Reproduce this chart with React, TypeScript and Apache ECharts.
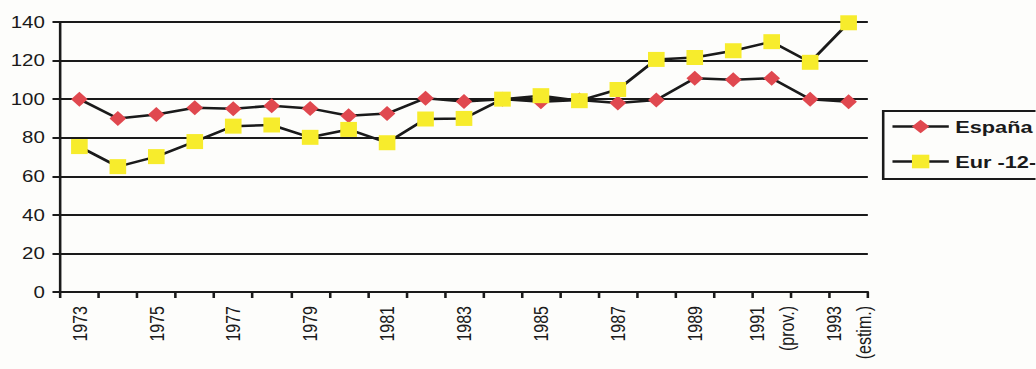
import React, { useEffect, useRef } from "react";
import * as echarts from "echarts";

// Years on the horizontal axis and the notes printed under a few of them
const years: string[] = [
  "1973", "1974", "1975", "1976", "1977", "1978", "1979", "1980", "1981", "1982",
  "1983", "1984", "1985", "1986", "1987", "1988", "1989", "1990", "1991", "1992", "1993",
];
const yearNotes: Record<string, string> = { "1991": "(prov.)", "1993": "(estim.)" };

// Index values (1985 ≈ 100)
const espana: number[] = [
  100, 90, 92, 95.5, 95, 96.6, 95.2, 91.4, 92.5, 100.5,
  98.8, 100, 98.7, 99.5, 98, 99.5, 110.8, 110, 110.8, 99.9, 98.7,
];
const eur12: number[] = [
  75.4, 65, 70.2, 78, 86, 86.6, 80.2, 84.3, 77.4, 89.7,
  90, 100, 101.8, 99.2, 105, 120.6, 121.6, 125.1, 129.8, 119.1, 139.6,
];

const yTicks = { min: 0, max: 140, interval: 20 };

// The drawing is laid out in a narrower box and stretched horizontally
const STRETCH = 1.28;
const OUT_W = 1036;
const OUT_H = 369;
const IN_W = Math.round(OUT_W / STRETCH);

const INK = "#1a1a1a";
const FONT = "'Liberation Sans', Arial, Helvetica, sans-serif";

export default function App() {
  const ref = useRef<HTMLDivElement>(null);

  useEffect(() => {
    if (!ref.current) return;
    const chart = echarts.init(ref.current, undefined, { renderer: "svg" });
    chart.setOption({
      animation: false,
      backgroundColor: "#fdfdfb",
      textStyle: { fontFamily: FONT, color: INK },
      grid: { left: 47, right: IN_W - 678, top: 22, bottom: 77, containLabel: false },
      legend: {
        orient: "vertical",
        left: 690,
        top: 111,
        padding: [7, 40, 9, 6],
        itemGap: 18,
        itemWidth: 44,
        itemHeight: 17,
        borderColor: INK,
        borderWidth: 2,
        borderRadius: 0,
        lineStyle: { width: 2.5, color: INK },
        textStyle: { fontFamily: FONT, fontSize: 17, fontWeight: "bold", color: INK, lineHeight: 17 },
        data: ["España", "Eur -12-"],
      },
      xAxis: {
        type: "category",
        data: years,
        boundaryGap: true,
        axisLine: { show: true, lineStyle: { color: INK, width: 2 } },
        axisTick: { show: true, interval: 0, length: 6, lineStyle: { color: INK, width: 2 } },
        axisLabel: {
          interval: 1,
          rotate: 90,
          margin: 14,
          fontSize: 16,
          lineHeight: 23,
          color: INK,
          fontFamily: FONT,
          formatter: (v: string) => (yearNotes[v] ? `${v}\n${yearNotes[v]}` : v),
        },
        splitLine: { show: false },
      },
      yAxis: {
        type: "value",
        min: yTicks.min,
        max: yTicks.max,
        interval: yTicks.interval,
        axisLine: { show: true, lineStyle: { color: INK, width: 2 } },
        axisTick: { show: true, length: 6, lineStyle: { color: INK, width: 2 } },
        axisLabel: { fontSize: 16, margin: 12, color: INK, fontFamily: FONT },
        splitLine: { show: true, lineStyle: { color: INK, width: 2 } },
      },
      series: [
        {
          name: "España",
          type: "line",
          data: espana,
          symbol: "diamond",
          symbolSize: [13, 15],
          lineStyle: { color: INK, width: 2.5 },
          itemStyle: { color: "#e0484f", borderWidth: 0 },
          z: 3,
        },
        {
          name: "Eur -12-",
          type: "line",
          data: eur12,
          symbol: "rect",
          symbolSize: [13, 15],
          lineStyle: { color: INK, width: 2.5 },
          itemStyle: { color: "#f7ec2c", borderWidth: 0 },
          z: 4,
        },
      ],
    });
    return () => chart.dispose();
  }, []);

  return (
    <div
      style={{
        position: "absolute",
        left: 0,
        top: 0,
        width: OUT_W,
        height: OUT_H,
        overflow: "hidden",
        background: "#fdfdfb",
      }}
    >
      <div
        ref={ref}
        style={{
          width: IN_W,
          height: OUT_H,
          transform: `scaleX(${STRETCH})`,
          transformOrigin: "0 0",
        }}
      />
    </div>
  );
}
